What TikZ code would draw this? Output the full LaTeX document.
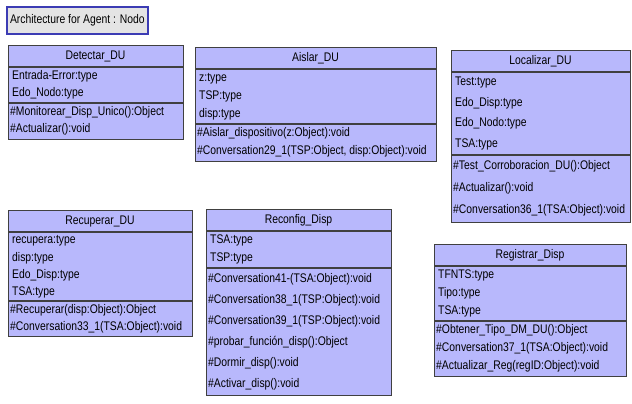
\documentclass[tikz,border=0pt]{standalone}
\usepackage{fontspec}
\setmainfont{Liberation Sans}[FakeStretch=0.83]
\usetikzlibrary{calc}

\definecolor{boxfill}{RGB}{184,184,252}
\definecolor{boxline}{RGB}{64,64,64}
\definecolor{titlefill}{RGB}{228,228,228}
\definecolor{titleline}{RGB}{60,60,180}

\tikzset{
  classbody/.style={draw=boxline, fill=boxfill, line width=1.2pt, inner sep=0pt, rectangle},
  sepline/.style={draw=boxline, line width=1.2pt},
  classname/.style={inner sep=0pt, font=\fontsize{12.5}{14}\selectfont},
  member/.style={inner sep=0pt, anchor=west, font=\fontsize{12.5}{14}\selectfont},
  diagtitle/.style={draw=titleline, fill=titlefill, line width=1.8pt, inner sep=0pt,
    font=\fontsize{12.5}{14}\selectfont, anchor=north west},
}

% header height and padding of the compartments
\def\hdrh{22}
\def\cpad{1}

% \classbox{name}{left}{top}{width}{attribute pitch}{operation pitch}{class name}{attributes}{operations}
\newcommand\classbox[9]{%
  \gdef\nattr{0}\foreach \t [count=\i] in {#8}{\xdef\nattr{\i}}%
  \gdef\nops{0}\foreach \t [count=\i] in {#9}{\xdef\nops{\i}}%
  \pgfmathsetmacro\ya{#3+\hdrh}%
  \pgfmathsetmacro\yb{\ya+\nattr*#5+\cpad}%
  \pgfmathsetmacro\yc{\yb+\nops*#6+\cpad}%
  \pgfmathsetmacro\hgt{\yc-#3}%
  \pgfmathsetmacro\xm{#2+#4/2}%
  \pgfmathsetmacro\xr{#2+#4}%
  \pgfmathsetmacro\yt{#3+\hdrh/2}%
  \node[classbody, minimum width=#4pt, minimum height=\hgt pt, anchor=north west] (#1) at (#2,#3) {};
  \draw[sepline] (#2,\ya) -- (\xr,\ya);
  \draw[sepline] (#2,\yb) -- (\xr,\yb);
  \node[classname] (#1-name) at (\xm,\yt) {#7};
  \foreach \t [count=\i] in {#8}{%
    \pgfmathsetmacro\yy{\ya+\cpad/2+(\i-0.5)*#5}%
    \node[member] (#1-a\i) at (#2+4,\yy) {\t};}
  \foreach \t [count=\i] in {#9}{%
    \pgfmathsetmacro\yy{\yb+\cpad/2+(\i-0.5)*#6}%
    \node[member] (#1-o\i) at (#2+2,\yy) {\t};}
}

\begin{document}
\begin{tikzpicture}[x=1pt,y=-1pt]
\useasboundingbox[fill=white] (0,0) rectangle (632,404);

\node[diagtitle, minimum width=141pt, minimum height=27pt] (title) at (6,6) {Architecture for Agent : Nodo};

\classbox{detectar}{8}{45}{175}{17.5}{17.5}{Detectar\_DU}
  {Entrada-Error:type, Edo\_Nodo:type}
  {\#Monitorear\_Disp\_Unico():Object, \#Actualizar():void}

\classbox{aislar}{195}{47}{241}{18}{18}{Aislar\_DU}
  {z:type, TSP:type, disp:type}
  {\#Aislar\_dispositivo(z:Object):void, {\#Conversation29\_1(TSP:Object, disp:Object):void}}

\classbox{localizar}{451}{50}{179}{20.5}{22}{Localizar\_DU}
  {Test:type, Edo\_Disp:type, Edo\_Nodo:type, TSA:type}
  {\#Test\_Corroboracion\_DU():Object, \#Actualizar():void, \#Conversation36\_1(TSA:Object):void}

\classbox{recuperar}{8}{210}{184}{17}{17}{Recuperar\_DU}
  {recupera:type, disp:type, Edo\_Disp:type, TSA:type}
  {\#Recuperar(disp:Object):Object, \#Conversation33\_1(TSA:Object):void}

\classbox{reconfig}{206}{209}{185}{18}{21}{Reconfig\_Disp}
  {TSA:type, TSP:type}
  {\#Conversation41-(TSA:Object):void, \#Conversation38\_1(TSP:Object):void,
   \#Conversation39\_1(TSP:Object):void, \#probar\_función\_disp():Object,
   \#Dormir\_disp():void, \#Activar\_disp():void}

\classbox{registrar}{434}{244}{192}{18}{18}{Registrar\_Disp}
  {TFNTS:type, Tipo:type, TSA:type}
  {\#Obtener\_Tipo\_DM\_DU():Object, \#Conversation37\_1(TSA:Object):void, \#Actualizar\_Reg(regID:Object):void}
\end{tikzpicture}
\end{document}
